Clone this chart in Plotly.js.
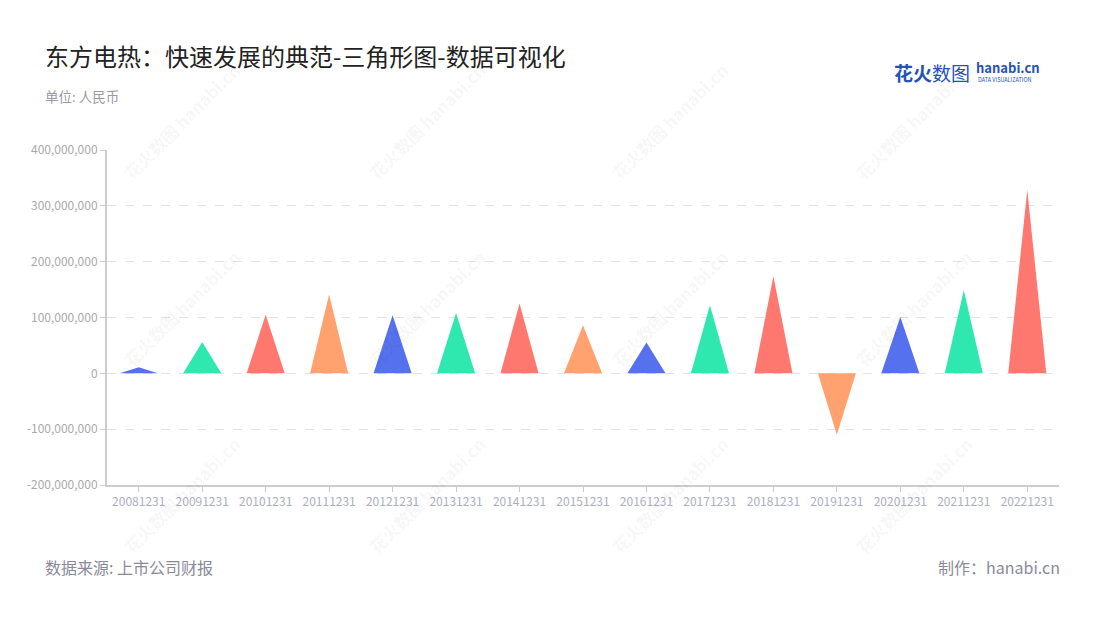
<!DOCTYPE html>
<html>
<head>
<meta charset="utf-8">
<script src="https://cdn.plot.ly/plotly-3.0.1.min.js"></script>
<style>
  html, body { margin: 0; padding: 0; background: #fff; }
  #chart { width: 1100px; height: 620px; }
</style>
</head>
<body>
<div id="chart"></div>
<script>
// ---- Data ----
const categories = ['20081231','20091231','20101231','20111231','20121231','20131231','20141231','20151231','20161231','20171231','20181231','20191231','20201231','20211231','20221231'];
const values = [11e6, 56e6, 105e6, 141e6, 104e6, 108e6, 125e6, 86e6, 55e6, 122e6, 174e6, -110e6, 101e6, 149e6, 329e6];
const palette = ['#5671EE', '#2EE8B0', '#FF7870', '#FFA26F'];
const yTickVals = [-200e6, -100e6, 0, 100e6, 200e6, 300e6, 400e6];
const yTickText = ['-200,000,000', '-100,000,000', '0', '100,000,000', '200,000,000', '300,000,000', '400,000,000'];

// ---- Layout geometry (pixels) ----
const W = 1100, H = 620;
const M = { l: 107, r: 41, t: 150, b: 135 };
const plotW = W - M.l - M.r, plotH = H - M.t - M.b;
const px = x => (x - M.l) / plotW;
const py = y => (H - M.b - y) / plotH;

const halfBase = 0.3;
const traces = categories.map((c, i) => ({
  type: 'scatter',
  mode: 'lines',
  x: [i - halfBase, i, i + halfBase, i - halfBase],
  y: [0, values[i], 0, 0],
  fill: 'toself',
  fillcolor: palette[i % palette.length],
  line: { width: 0, color: palette[i % palette.length] },
  name: c,
  hoverinfo: 'text',
  text: c + ': ' + values[i].toLocaleString('en-US'),
  showlegend: false
}));

const font = '"Noto Sans CJK SC", "Noto Sans", sans-serif';
const annotations = [
  { text: '东方电热：快速发展的典范-三角形图-数据可视化', x: px(43), y: py(55), xanchor: 'left', yanchor: 'middle',
    font: { size: 24, color: '#222', family: font } },
  { text: '单位: 人民币', x: px(43), y: py(96), xanchor: 'left', yanchor: 'middle',
    font: { size: 13.5, color: '#9a9aa6', family: font } },
  { text: '数据来源: 上市公司财报', x: px(43), y: py(567), xanchor: 'left', yanchor: 'middle',
    font: { size: 16, color: '#8a8a9a', family: font } },
  { text: '制作：hanabi.cn', x: px(1062), y: py(567), xanchor: 'right', yanchor: 'middle',
    font: { size: 16, color: '#8a8a9a', family: font } },
  // logo
  { text: '<b>花火</b>数图', x: px(892), y: py(72), xanchor: 'left', yanchor: 'middle',
    font: { size: 19, color: '#2553b5', family: font } },
  { text: '<b>hanabi.cn</b>', x: px(974), y: py(67), xanchor: 'left', yanchor: 'middle',
    font: { size: 13, color: '#2553b5', family: font } },
  { text: 'DATA VISUALIZATION', x: px(976), y: py(80.5), xanchor: 'left', yanchor: 'middle',
    font: { size: 5.5, color: '#2553b5', family: font } }
];
// watermarks
const wmCols = [181, 426, 669, 913], wmRows = [121, 308, 495];
wmRows.forEach(r => wmCols.forEach(c => {
  annotations.push({ text: '<b>花火数图 hanabi.cn</b>', x: px(c), y: py(r), xanchor: 'center', yanchor: 'middle',
    textangle: -45, showarrow: false, font: { size: 17, color: 'rgba(0,0,0,0.05)', family: font } });
}));
annotations.forEach(a => { a.xref = 'paper'; a.yref = 'paper'; if (a.showarrow === undefined) a.showarrow = false; });

const layout = {
  width: W, height: H,
  margin: M,
  paper_bgcolor: '#fff', plot_bgcolor: '#fff',
  font: { family: font },
  showlegend: false,
  xaxis: {
    range: [-0.5, categories.length - 0.5],
    tickmode: 'array',
    tickvals: categories.map((c, i) => i),
    ticktext: categories,
    showgrid: false, zeroline: false,
    showline: true, linecolor: '#cccccc', linewidth: 2,
    ticks: 'outside', ticklen: 5, tickcolor: '#cccccc', tickwidth: 1,
    tickfont: { size: 12, color: '#a9afbf', family: font },
    fixedrange: true
  },
  yaxis: {
    range: [-200e6, 400e6],
    tickmode: 'array',
    tickvals: yTickVals,
    ticktext: yTickText,
    showgrid: true, gridcolor: '#e2e2e2', griddash: 'dash', gridwidth: 1,
    zeroline: false,
    showline: true, linecolor: '#cccccc', linewidth: 2,
    ticks: 'outside', ticklen: 5, tickcolor: '#cccccc', tickwidth: 1,
    tickfont: { size: 12, color: '#aaaaaa', family: font },
    fixedrange: true
  },
  annotations: annotations
};

Plotly.newPlot('chart', traces, layout, { displayModeBar: false });
</script>
</body>
</html>
